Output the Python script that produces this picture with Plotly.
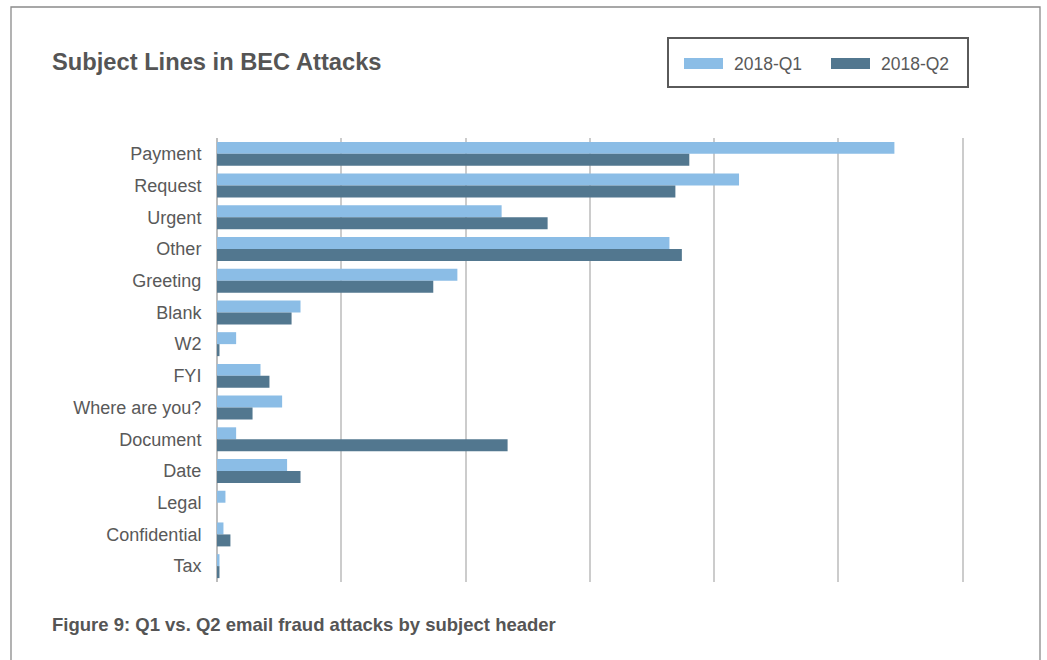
import plotly.graph_objects as go

categories = ["Payment", "Request", "Urgent", "Other", "Greeting", "Blank", "W2", "FYI",
              "Where are you?", "Document", "Date", "Legal", "Confidential", "Tax"]
series_names = ["2018-Q1", "2018-Q2"]
q1_values = [27.25, 21.0, 11.45, 18.2, 9.67, 3.36, 0.77, 1.75, 2.62, 0.77, 2.82, 0.34, 0.26, 0.1]
q2_values = [19.0, 18.44, 13.3, 18.7, 8.7, 3.0, 0.1, 2.11, 1.43, 11.69, 3.36, 0.0, 0.54, 0.1]
x_ticks = [0, 5, 10, 15, 20, 25, 30]

colors = ["#8BBDE6", "#52778F"]
W, H = 1047, 660
L, R, T, B = 217, 964, 138, 582

def px(x):
    return (x - L) / (R - L)

def py(y):
    return (B - y) / (B - T)

fig = go.Figure()
for name, vals, col in zip(series_names, [q1_values, q2_values], colors):
    fig.add_trace(go.Bar(y=categories, x=vals, name=name, orientation="h",
                         marker=dict(color=col, line=dict(width=0)), showlegend=False))

font_family = "Liberation Sans, Arial, Helvetica, sans-serif"
text_color = "#595959"

shapes = [
    # outer frame
    dict(type="rect", xref="paper", yref="paper", x0=px(11), x1=px(1040), y0=py(666), y1=py(7),
         line=dict(color="#8a8a8a", width=1.3), fillcolor="rgba(0,0,0,0)", layer="below"),
    # legend box
    dict(type="rect", xref="paper", yref="paper", x0=px(668), x1=px(968), y0=py(87), y1=py(38),
         line=dict(color="#5a5a5a", width=2), fillcolor="rgba(0,0,0,0)"),
]
annotations = [
    dict(text="<b>Subject Lines in BEC Attacks</b>", xref="paper", yref="paper", x=px(50), y=py(62),
         xanchor="left", yanchor="middle", showarrow=False,
         font=dict(family=font_family, size=23.7, color="#555555")),
    dict(text="<b>Figure 9: Q1 vs. Q2 email fraud attacks by subject header</b>", xref="paper", yref="paper",
         x=px(50), y=py(624), xanchor="left", yanchor="middle", showarrow=False,
         font=dict(family=font_family, size=18.5, color="#555555")),
]
legend_swatch_x = [684, 831]
for sx, name, col in zip(legend_swatch_x, series_names, colors):
    shapes.append(dict(type="rect", xref="paper", yref="paper", x0=px(sx), x1=px(sx + 39),
                       y0=py(69), y1=py(58), line=dict(width=0), fillcolor=col))
    annotations.append(dict(text=name, xref="paper", yref="paper", x=px(sx + 48), y=py(63.5),
                            xanchor="left", yanchor="middle", showarrow=False,
                            font=dict(family=font_family, size=17.5, color=text_color)))

fig.update_layout(
    width=W, height=H,
    margin=dict(l=L, r=W - R, t=T, b=H - B, pad=0),
    paper_bgcolor="white", plot_bgcolor="white",
    barmode="group", bargap=0.245, bargroupgap=0,
    shapes=shapes, annotations=annotations,
    showlegend=False,
    xaxis=dict(range=[0, 30.05], tickvals=x_ticks, showticklabels=False, showgrid=True,
               gridcolor="#cccccc", gridwidth=1.5, zeroline=True, zerolinecolor="#bdbdbd",
               zerolinewidth=2, showline=False, ticks="", fixedrange=True),
    yaxis=dict(type="category", autorange="reversed", showgrid=False, zeroline=False,
               showline=False, ticks="outside", ticklen=11, tickcolor="rgba(0,0,0,0)",
               tickfont=dict(family=font_family, size=18, color=text_color), fixedrange=True),
)

fig.write_html("out.html")
